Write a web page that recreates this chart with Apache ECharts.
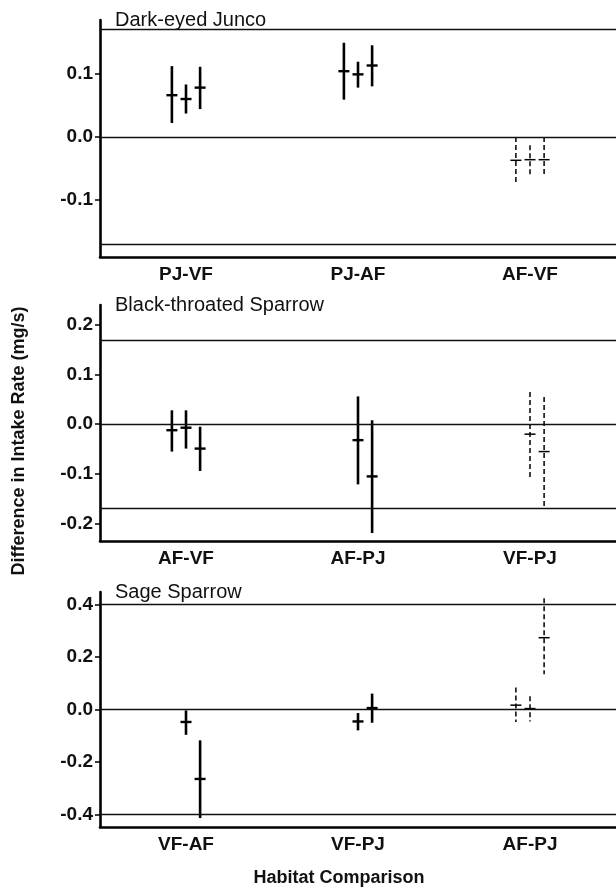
<!DOCTYPE html>
<html>
<head>
    <meta charset="utf-8">
    <title>Difference in Intake Rate</title>
    <script src="https://cdn.jsdelivr.net/npm/echarts@6/dist/echarts.min.js"></script>
    <style>
        html, body { margin: 0; padding: 0; background: #fff; }
        #chart { width: 616px; height: 889px; }
    </style>
</head>
<body>
<div id="chart"></div>
<script>
// --- data (per comparison: slots 1..3, null = not drawn)
var juncoCats = ['PJ-VF', 'PJ-AF', 'AF-VF'];
var juncoMean = [[0.066, 0.060, 0.078], [0.104, 0.099, 0.113], [-0.037, -0.036, -0.036]];
var juncoLow = [[0.022, 0.037, 0.044], [0.059, 0.078, 0.080], [-0.073, -0.064, -0.063]];
var juncoHigh = [[0.112, 0.083, 0.111], [0.149, 0.119, 0.145], [0.000, -0.013, 0.000]];
var juncoDashed = [false, false, true];
var juncoTicks = [-0.1, 0, 0.1];
var juncoRef = [0.171, -0.172];

var btspCats = ['AF-VF', 'AF-PJ', 'VF-PJ'];
var btspMean = [[-0.012, -0.007, -0.049], [null, -0.032, -0.105], [null, -0.020, -0.055]];
var btspLow = [[-0.055, -0.049, -0.094], [null, -0.121, -0.219], [null, -0.107, -0.169]];
var btspHigh = [[0.028, 0.028, -0.005], [null, 0.056, 0.008], [null, 0.065, 0.055]];
var btspDashed = [false, false, true];
var btspTicks = [-0.2, -0.1, 0, 0.1, 0.2];
var btspRef = [0.171, -0.170];

var sageCats = ['VF-AF', 'VF-PJ', 'AF-PJ'];
var sageMean = [[null, -0.047, -0.264], [null, -0.045, 0.006], [0.017, 0.004, 0.274]];
var sageLow = [[null, -0.096, -0.413], [null, -0.079, -0.050], [-0.047, -0.045, 0.135]];
var sageHigh = [[null, -0.003, -0.117], [null, -0.013, 0.061], [0.084, 0.051, 0.424]];
var sageDashed = [false, false, true];
var sageTicks = [-0.4, -0.2, 0, 0.2, 0.4];
var sageRef = [0.397, -0.397];

var panels = [
    { name: 'Dark-eyed Junco', cats: juncoCats, mean: juncoMean, low: juncoLow, high: juncoHigh,
      dashed: juncoDashed, ticks: juncoTicks, ref: juncoRef, min: -0.19, max: 0.185, top: 20, height: 237 },
    { name: 'Black-throated Sparrow', cats: btspCats, mean: btspMean, low: btspLow, high: btspHigh,
      dashed: btspDashed, ticks: btspTicks, ref: btspRef, min: -0.235, max: 0.24, top: 305, height: 236 },
    { name: 'Sage Sparrow', cats: sageCats, mean: sageMean, low: sageLow, high: sageHigh,
      dashed: sageDashed, ticks: sageTicks, ref: sageRef, min: -0.447, max: 0.448, top: 592, height: 235 }
];

var FONT = '"Liberation Sans", Arial, sans-serif';

function renderBar(params, api) {
    var cat = api.value(0), slot = api.value(1);
    var mean = api.value(2), lo = api.value(3), hi = api.value(4), dashed = api.value(5);
    var band = api.size([1, 0])[0];
    var pm = api.coord([cat, mean]);
    var x = pm[0] + (slot - 1) * band * 0.082;
    var yLo = api.coord([cat, lo])[1];
    var yHi = api.coord([cat, hi])[1];
    var w = dashed ? 1.5 : 2.6;
    return {
        type: 'group',
        children: [{
            type: 'line',
            shape: { x1: x, y1: yHi, x2: x, y2: yLo },
            style: { stroke: '#000', lineWidth: w, lineDash: dashed ? [5, 3] : null }
        }, {
            type: 'line',
            shape: { x1: x - 5.5, y1: pm[1], x2: x + 5.5, y2: pm[1] },
            style: { stroke: '#000', lineWidth: dashed ? 1.5 : 2.4 }
        }]
    };
}

var grid = [], xAxis = [], yAxis = [], series = [], title = [];
panels.forEach(function (p, i) {
    grid.push({ left: 100, right: 0, top: p.top, height: p.height });
    title.push({
        text: p.name, left: 110, top: p.top - 15,
        textStyle: { fontFamily: FONT, fontSize: 20, fontWeight: 'normal', color: '#111' }
    });
    xAxis.push({
        type: 'category', gridIndex: i, data: p.cats,
        axisLine: { onZero: false, lineStyle: { color: '#000', width: 2.6 } },
        axisTick: { alignWithLabel: true, length: 4, lineStyle: { color: '#000', width: 2 } },
        axisLabel: { margin: 8, fontFamily: FONT, fontSize: 19, fontWeight: 'bold', color: '#111' },
        splitLine: { show: false }
    });
    yAxis.push({
        type: 'value', gridIndex: i, min: p.min, max: p.max,
        axisLine: { show: true, lineStyle: { color: '#000', width: 2.6 } },
        axisTick: { show: true, length: 5, customValues: p.ticks, lineStyle: { color: '#000', width: 1.5 } },
        axisLabel: {
            margin: 7, customValues: p.ticks, fontFamily: FONT, fontSize: 19, fontWeight: 'bold', color: '#111',
            formatter: function (v) { return (Math.round(v * 10) / 10).toFixed(1); }
        },
        splitLine: { show: false }
    });
    var data = [];
    p.cats.forEach(function (c, ci) {
        for (var s = 0; s < 3; s++) {
            if (p.mean[ci][s] === null) continue;
            data.push([ci, s, p.mean[ci][s], p.low[ci][s], p.high[ci][s], p.dashed[ci] ? 1 : 0]);
        }
    });
    series.push({
        type: 'custom', xAxisIndex: i, yAxisIndex: i,
        renderItem: renderBar, data: data, silent: true,
        markLine: {
            silent: true, symbol: 'none', label: { show: false },
            lineStyle: { type: 'solid', color: '#111', width: 1.3 },
            data: [{ yAxis: p.ref[0] }, { yAxis: 0 }, { yAxis: p.ref[1] }]
        }
    });
});

var chart = echarts.init(document.getElementById('chart'), null, { renderer: 'canvas' });
chart.setOption({
    animation: false,
    backgroundColor: '#fff',
    title: title,
    grid: grid,
    xAxis: xAxis,
    yAxis: yAxis,
    series: series,
    graphic: [{
        type: 'text', x: 19, y: 441, rotation: Math.PI / 2,
        style: { text: 'Difference in Intake Rate (mg/s)', font: 'bold 18px ' + FONT, fill: '#111',
                 textAlign: 'center', textVerticalAlign: 'middle' }
    }, {
        type: 'text', x: 339, y: 878,
        style: { text: 'Habitat Comparison', font: 'bold 18px ' + FONT, fill: '#111',
                 textAlign: 'center', textVerticalAlign: 'middle' }
    }]
});
</script>
</body>
</html>
